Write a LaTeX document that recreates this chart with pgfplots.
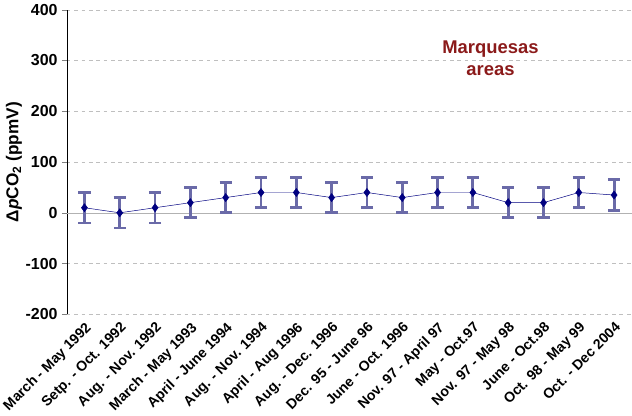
\documentclass[border=0pt]{standalone}
\usepackage{pgfplots}
\pgfplotsset{compat=1.18}
\usepackage{fontspec}
\setmainfont{Liberation Sans}
\definecolor{navy}{HTML}{000080}
\definecolor{ebar}{HTML}{6A6AA8}
\definecolor{dred}{HTML}{8B1A1A}
\begin{document}
\begin{tikzpicture}
\begin{axis}[
  width=460pt, height=248pt, scale only axis,
  xmin=-0.5, xmax=15.5, ymin=-200, ymax=400,
  ytick={-200,-100,0,100,200,300,400},
  xtick={0,...,15},
  xticklabels={March - May 1992,Setp. - Oct. 1992,Aug. - Nov. 1992,March - May 1993,April - June 1994,Aug. - Nov. 1994,April - Aug 1996,Aug. - Dec. 1996,Dec. 95 - June 96,June - Oct. 1996,Nov. 97 - April 97,May - Oct.97,Nov. 97 - May 98,June - Oct.98,Oct. 98 - May 99,Oct. - Dec 2004},
  x tick label style={rotate=45, anchor=north east, font=\bfseries\fontsize{11.5}{12}\selectfont, inner sep=1pt},
  y tick label style={font=\bfseries\fontsize{13}{14}\selectfont},
  /pgf/number format/assume math mode=true,
  ymajorgrids, grid style={dashed, gray!50},
  axis x line*=bottom, axis y line*=left,
  x axis line style={draw=none},
  tick align=outside, major tick length=4pt,
  xtick style={draw=none},
  ylabel={\bfseries\fontsize{14}{15}\selectfont Δ\textit{p}CO\textsubscript{2} (ppmV)},
  ylabel style={yshift=-4pt},
  clip=false,
]
\draw[gray!60] (axis cs:-0.5,0) -- (axis cs:15.5,0);
\addplot[navy, mark=diamond*, mark size=3.3pt,
  error bars/.cd, y dir=both, y explicit,
  error bar style={ebar, line width=2.3pt}, error mark options={ebar, line width=2.3pt, mark size=5pt, rotate=90}]
 coordinates {
 (0,10) +- (0,30)
 (1,0) +- (0,30)
 (2,10) +- (0,30)
 (3,20) +- (0,30)
 (4,30) +- (0,30)
 (5,40) +- (0,30)
 (6,40) +- (0,30)
 (7,30) +- (0,30)
 (8,40) +- (0,30)
 (9,30) +- (0,30)
 (10,40) +- (0,30)
 (11,40) +- (0,30)
 (12,20) +- (0,30)
 (13,20) +- (0,30)
 (14,40) +- (0,30)
 (15,35) +- (0,30)
 };
\node[dred, font=\bfseries\fontsize{15}{18}\selectfont, align=center] at (axis cs:11.5,305) {Marquesas\\areas};
\end{axis}
\end{tikzpicture}
\end{document}
